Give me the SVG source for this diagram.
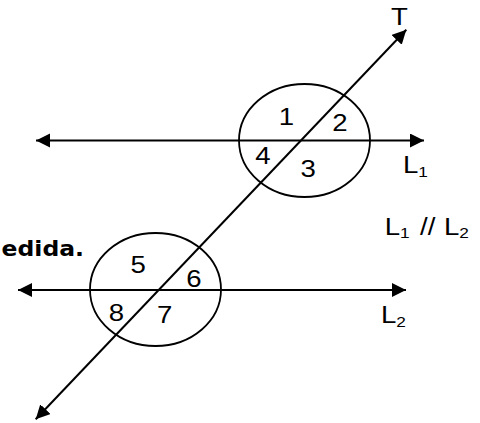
<svg xmlns="http://www.w3.org/2000/svg" width="480" height="423" viewBox="0 0 480 423">
<style>
.ln{stroke:#000;stroke-width:2;fill:none}
.el{stroke:#000;stroke-width:1.8;fill:none}
.lb{font-family:"Liberation Sans",Arial,sans-serif;font-size:24px;fill:#000}
.sb{font-size:15px}
.bd{font-family:"DejaVu Sans",Verdana,sans-serif;font-weight:bold;font-size:21px;fill:#000}
</style>
<defs>
<marker id="ah" markerUnits="userSpaceOnUse" markerWidth="16" markerHeight="16" refX="14" refY="7" orient="auto-start-reverse">
<path d="M0,0 L14,7 L0,14 z" fill="#000"/>
</marker>
</defs>
<rect width="480" height="423" fill="#fff"/>
<g id="connectors">
<line class="ln" x1="36" y1="140.5" x2="424" y2="140.5" marker-start="url(#ah)" marker-end="url(#ah)"/>
<line class="ln" x1="18" y1="290" x2="406" y2="290" marker-start="url(#ah)" marker-end="url(#ah)"/>
<line class="ln" x1="35.7" y1="419.3" x2="406.3" y2="29.7" marker-start="url(#ah)" marker-end="url(#ah)"/>
</g>
<g id="upper">
<ellipse class="el" cx="304.5" cy="140.5" rx="65.5" ry="56.5"/>
<text class="lb" transform="translate(278.7,124.5) scale(1.15,1)">1</text>
<text class="lb" transform="translate(332.2,131) scale(1.15,1)">2</text>
<text class="lb" transform="translate(300.5,176.5) scale(1.15,1)">3</text>
<text class="lb" transform="translate(255.3,164) scale(1.15,1)">4</text>
</g>
<g id="lower">
<ellipse class="el" cx="155.5" cy="289.5" rx="65.5" ry="56.5"/>
<text class="lb" transform="translate(130.5,272.5) scale(1.15,1)">5</text>
<text class="lb" transform="translate(186.3,286.5) scale(1.15,1)">6</text>
<text class="lb" transform="translate(157,323) scale(1.15,1)">7</text>
<text class="lb" transform="translate(108.8,320.5) scale(1.15,1)">8</text>
</g>
<g id="labels">
<text class="lb" transform="translate(391,25) scale(1.15,1)">T</text>
<text class="lb" transform="translate(403,172.5) scale(1.15,1)">L<tspan class="sb" dy="4">1</tspan></text>
<text class="lb" transform="translate(381,322.5) scale(1.15,1)">L<tspan class="sb" dy="4">2</tspan></text>
<text class="lb" transform="translate(384.7,235) scale(1.15,1)">L<tspan class="sb" dy="3">1</tspan></text>
<text class="lb" transform="translate(420,235) scale(1.15,1)">//</text>
<text class="lb" transform="translate(444,235) scale(1.15,1)">L<tspan class="sb" dy="3">2</tspan></text>
<text class="bd" text-anchor="end" transform="translate(84,255.5) scale(1.12,1)">edida.</text>
</g>
</svg>
